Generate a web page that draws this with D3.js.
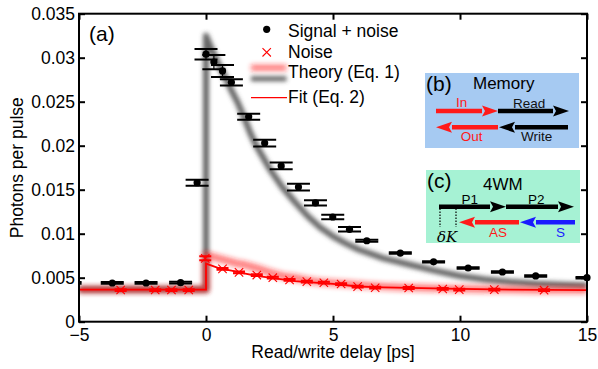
<!DOCTYPE html>
<html>
<head>
<meta charset="utf-8">
<script src="https://cdn.jsdelivr.net/npm/d3@7/dist/d3.min.js"></script>
<style>
  html, body { margin: 0; padding: 0; background: #fff; }
  svg { display: block; font-family: "Liberation Sans", Arial, Helvetica, sans-serif; }
</style>
</head>
<body>
<svg id="chart" width="598" height="369"></svg>
<script>
// ---------------- data ----------------
const xTicks = [-5, 0, 5, 10, 15];
const yTicks = [0, 0.005, 0.01, 0.015, 0.02, 0.025, 0.03, 0.035];

// Signal + noise (black dots with error bars)
const sigX   = [-5.35, -3.69, -2.36, -1.0, -0.35, 0.0, 0.31, 0.65, 1.0, 1.68, 2.31, 2.96, 3.64, 4.31, 4.99, 5.65, 6.33, 7.65, 8.96, 10.32, 11.67, 12.98, 15.0];
const sigY   = [0.0044, 0.0044, 0.0044, 0.00443, 0.0158, 0.0304, 0.0295, 0.0285, 0.0272, 0.0233, 0.0203, 0.0177, 0.0153, 0.0135, 0.0119, 0.0105, 0.0092, 0.0078, 0.0068, 0.0061, 0.00565, 0.0052, 0.0050];
const sigErr = [0.0001, 0.0001, 0.0001, 0.0001, 0.00034, 0.0006, 0.0008, 0.00068, 0.00036, 0.00034, 0.00038, 0.00038, 0.00038, 0.0003, 0.00025, 0.00025, 0.00012, 0.00008, 0.00008, 0.00008, 0.00008, 0.00008, 0.00008];

// Noise (red crosses with error bars)
const noiseX   = [-3.36, -2.0, -1.36, -0.68, -0.03, 0.65, 1.3, 2.0, 2.63, 3.29, 3.97, 4.64, 5.32, 5.97, 6.66, 7.98, 9.32, 9.97, 11.35, 13.31];
const noiseY   = [0.0036, 0.0036, 0.0036, 0.0036, 0.0072, 0.0060, 0.0056, 0.0053, 0.0050, 0.00474, 0.00455, 0.00443, 0.00428, 0.00398, 0.00386, 0.00383, 0.00372, 0.00364, 0.00364, 0.00358];
const noiseErr = [0.0001, 0.0001, 0.0001, 0.0001, 0.00023, 0.0001, 0.0001, 0.0001, 0.0001, 0.0001, 0.0001, 0.0001, 0.0001, 0.0001, 0.0001, 0.0001, 0.0001, 0.0001, 0.0001, 0.0001];

// Theory (Eq. 1) curves
const theoryX      = [-5, 0, 0, 0.25, 0.5, 0.75, 1, 1.25, 1.5, 1.75, 2, 2.5, 3, 3.5, 4, 4.5, 5, 5.5, 6, 6.5, 7, 8, 9, 10, 11, 12, 13, 14, 15];
const theorySignal = [0.00365, 0.00365, 0.0325, 0.0308, 0.0292, 0.0278, 0.0263, 0.0249, 0.0232, 0.0214, 0.0199, 0.0174, 0.0153, 0.0136, 0.0120, 0.0107, 0.0097, 0.0089, 0.0082, 0.0077, 0.0072, 0.0065, 0.0058, 0.0052, 0.0048, 0.0045, 0.0043, 0.0042, 0.0041];
const theoryNoise  = [0.00365, 0.00365, 0.0076, 0.0074, 0.0072, 0.0070, 0.0068, 0.0066, 0.0065, 0.0063, 0.0061, 0.0056, 0.0052, 0.0050, 0.0047, 0.0045, 0.0044, 0.0043, 0.0042, 0.0041, 0.0040, 0.0039, 0.0038, 0.00375, 0.0037, 0.00365, 0.0036, 0.0036, 0.0036];

// Fit (Eq. 2)
const fitX = [-5, 0, 0, 0.5, 1, 1.5, 2, 2.5, 3, 3.5, 4, 5, 6, 7, 8, 9, 10, 12, 15];
const fitY = [0.00365, 0.00365, 0.0066, 0.0061, 0.0058, 0.0055, 0.0052, 0.0050, 0.0048, 0.0046, 0.0045, 0.0043, 0.0040, 0.0039, 0.00385, 0.00378, 0.00372, 0.00364, 0.00358];

const legendLabels = ["Signal + noise", "Noise", "Theory (Eq. 1)", "Fit (Eq. 2)"];
const xLabel = "Read/write delay [ps]";
const yLabel = "Photons per pulse";

// ---------------- layout ----------------
const W = 598, H = 369;
const M = { left: 79, right: 587, top: 13.7, bottom: 321.7 };
const FS = 17.5;
const RED = "#ff0000";

const svg = d3.select("#chart");
const x = d3.scaleLinear().domain([-5, 15]).range([M.left, M.right]);
const y = d3.scaleLinear().domain([0, 0.035]).range([M.bottom, M.top]);

const defs = svg.append("defs");
defs.append("clipPath").attr("id", "plotclip")
  .append("rect").attr("x", M.left).attr("y", M.top)
  .attr("width", M.right - M.left).attr("height", M.bottom - M.top);
function blurFilter(id, sd) {
  defs.append("filter").attr("id", id)
    .attr("filterUnits", "userSpaceOnUse")
    .attr("x", 0).attr("y", 0).attr("width", W).attr("height", H)
    .append("feGaussianBlur").attr("stdDeviation", sd);
}
blurFilter("blurGray", 1.9);
blurFilter("blurRed", 2.4);

const plot = svg.append("g").attr("clip-path", "url(#plotclip)");

const line = d3.line().x(d => x(d[0])).y(d => y(d[1])).curve(d3.curveLinear);
const thSig = theoryX.map((v, i) => [v, theorySignal[i]]);
const thNoi = theoryX.map((v, i) => [v, theoryNoise[i]]);
const fit = fitX.map((v, i) => [v, fitY[i]]);

// gray theory band
plot.append("path").attr("d", line(thSig))
  .attr("fill", "none").attr("stroke", "#4a4a4a").attr("stroke-width", 6)
  .attr("stroke-opacity", 0.85).attr("stroke-linejoin", "round")
  .attr("filter", "url(#blurGray)");
// pink/red theory band
plot.append("path").attr("d", line(thNoi))
  .attr("fill", "none").attr("stroke", "#ff2020").attr("stroke-width", 7)
  .attr("stroke-opacity", 0.6).attr("stroke-linejoin", "round")
  .attr("filter", "url(#blurRed)");
// fit line
plot.append("path").attr("d", line(fit))
  .attr("fill", "none").attr("stroke", RED).attr("stroke-width", 1.8);

// signal error bars
const sig = sigX.map((v, i) => ({ x: v, y: sigY[i], e: sigErr[i] }));
const capS = 11.5;
const gs = plot.append("g").attr("stroke", "#000");
sig.forEach(d => {
  const cx = x(d.x);
  gs.append("line").attr("x1", cx).attr("x2", cx).attr("y1", y(d.y - d.e)).attr("y2", y(d.y + d.e)).attr("stroke-width", 1.2);
  [d.y - d.e, d.y + d.e].forEach(v => {
    gs.append("line").attr("x1", cx - capS).attr("x2", cx + capS).attr("y1", y(v)).attr("y2", y(v)).attr("stroke-width", 2);
  });
});

// noise error bars
const noi = noiseX.map((v, i) => ({ x: v, y: noiseY[i], e: noiseErr[i] }));
const capN = 6;
const gn = plot.append("g").attr("stroke", RED);
noi.forEach(d => {
  const cx = x(d.x);
  gn.append("line").attr("x1", cx).attr("x2", cx).attr("y1", y(d.y - d.e)).attr("y2", y(d.y + d.e)).attr("stroke-width", 1.2);
  [d.y - d.e, d.y + d.e].forEach(v => {
    gn.append("line").attr("x1", cx - capN).attr("x2", cx + capN).attr("y1", y(v)).attr("y2", y(v)).attr("stroke-width", 2);
  });
});

// markers (not clipped, but only those inside the x range)
const marks = svg.append("g");
marks.selectAll("circle").data(sig.filter(d => d.x >= -5 && d.x <= 15)).join("circle")
  .attr("cx", d => x(d.x)).attr("cy", d => y(d.y)).attr("r", 3.6).attr("fill", "#000");
const xs = 4.2;
marks.selectAll("path.cross").data(noi).join("path").attr("class", "cross")
  .attr("d", d => {
    const cx = x(d.x), cy = y(d.y);
    return `M${cx - xs},${cy - xs}L${cx + xs},${cy + xs}M${cx - xs},${cy + xs}L${cx + xs},${cy - xs}`;
  })
  .attr("stroke", RED).attr("stroke-width", 1.1).attr("fill", "none");

// ---------------- axes ----------------
function styleAxis(g) {
  g.select(".domain").remove();
  g.selectAll(".tick line").attr("stroke", "#000").attr("stroke-width", 2);
  g.selectAll(".tick text").attr("fill", "#000").style("font-size", FS + "px")
    .style("font-family", "'Liberation Sans', Arial, sans-serif");
}
const fmtY = d => String(d);
svg.append("g").attr("transform", `translate(0,${M.bottom})`)
  .call(d3.axisBottom(x).tickValues(xTicks).tickSizeInner(-6).tickSizeOuter(0).tickPadding(6.5))
  .call(styleAxis);
svg.append("g").attr("transform", `translate(0,${M.top})`)
  .call(d3.axisTop(x).tickValues(xTicks).tickSizeInner(-6).tickSizeOuter(0).tickFormat(""))
  .call(styleAxis);
svg.append("g").attr("transform", `translate(${M.left},0)`)
  .call(d3.axisLeft(y).tickValues(yTicks).tickSizeInner(-6).tickSizeOuter(0).tickPadding(4).tickFormat(fmtY))
  .call(styleAxis);
svg.append("g").attr("transform", `translate(${M.right},0)`)
  .call(d3.axisRight(y).tickValues(yTicks).tickSizeInner(-6).tickSizeOuter(0).tickFormat(""))
  .call(styleAxis);

// frame
svg.append("rect").attr("x", M.left).attr("y", M.top)
  .attr("width", M.right - M.left).attr("height", M.bottom - M.top)
  .attr("fill", "none").attr("stroke", "#000").attr("stroke-width", 2);

// axis labels
svg.append("text").attr("x", (M.left + M.right) / 2).attr("y", 358)
  .attr("text-anchor", "middle").style("font-size", FS + "px").text(xLabel);
svg.append("text").attr("transform", `translate(23,${(M.top + M.bottom) / 2}) rotate(-90)`)
  .attr("text-anchor", "middle").style("font-size", FS + "px").text(yLabel);

// panel label
svg.append("text").attr("x", 89).attr("y", 41).style("font-size", "21px").text("(a)");

// ---------------- legend ----------------
const lg = svg.append("g");
lg.append("circle").attr("cx", 266.7).attr("cy", 29.3).attr("r", 3.6).attr("fill", "#000");
lg.append("path").attr("d", `M${266.7 - xs},${52.3 - xs}L${266.7 + xs},${52.3 + xs}M${266.7 - xs},${52.3 + xs}L${266.7 + xs},${52.3 - xs}`)
  .attr("stroke", RED).attr("stroke-width", 1.1);
lg.append("line").attr("x1", 251).attr("x2", 286.5).attr("y1", 67.7).attr("y2", 67.7)
  .attr("stroke", "#ff2020").attr("stroke-width", 6).attr("stroke-opacity", 0.6).attr("filter", "url(#blurRed)");
lg.append("line").attr("x1", 251).attr("x2", 286.5).attr("y1", 78.7).attr("y2", 78.7)
  .attr("stroke", "#4a4a4a").attr("stroke-width", 5).attr("stroke-opacity", 0.85).attr("filter", "url(#blurGray)");
lg.append("line").attr("x1", 251).attr("x2", 287).attr("y1", 97.7).attr("y2", 97.7)
  .attr("stroke", RED).attr("stroke-width", 1.2);
const lgY = [36.5, 58.3, 78.3, 102.7];
legendLabels.forEach((t, i) => {
  lg.append("text").attr("x", 288).attr("y", lgY[i]).style("font-size", FS + "px").text(t);
});

// ---------------- insets ----------------
function arrow(g, x1, x2, yy, color) {
  const dir = x2 > x1 ? 1 : -1;
  const hl = 16, hw = 5.5, th = 4.5;
  const xb = x2 - dir * hl;
  g.append("line").attr("x1", x1).attr("x2", xb).attr("y1", yy).attr("y2", yy)
    .attr("stroke", color).attr("stroke-width", th);
  g.append("path").attr("d", `M${x2},${yy}L${xb},${yy - hw}L${xb + dir * 3},${yy}L${xb},${yy + hw}Z`)
    .attr("fill", color);
}
const ins = svg.append("g");
// (b) Memory
ins.append("rect").attr("x", 425).attr("y", 73).attr("width", 154).attr("height", 75).attr("fill", "#a6caf2");
ins.append("text").attr("x", 426).attr("y", 91).style("font-size", "21px").text("(b)");
ins.append("text").attr("x", 473).attr("y", 88.5).style("font-size", "17px").text("Memory");
arrow(ins, 436, 498, 111, "#ff1a1a");
arrow(ins, 498, 569, 111, "#000");
arrow(ins, 498, 436, 127.3, "#ff1a1a");
arrow(ins, 568, 499, 127.3, "#000");
ins.append("text").attr("x", 456).attr("y", 106.5).attr("fill", "#ff1a1a").style("font-size", "13.5px").text("In");
ins.append("text").attr("x", 513).attr("y", 107.5).attr("fill", "#111").style("font-size", "13.5px").text("Read");
ins.append("text").attr("x", 460.7).attr("y", 140.5).attr("fill", "#ff1a1a").style("font-size", "13.5px").text("Out");
ins.append("text").attr("x", 521).attr("y", 141).attr("fill", "#111").style("font-size", "13.5px").text("Write");
// (c) 4WM
ins.append("rect").attr("x", 426).attr("y", 170).attr("width", 154).attr("height", 73).attr("fill", "#a6f2d4");
ins.append("text").attr("x", 427).attr("y", 188).style("font-size", "21px").text("(c)");
ins.append("text").attr("x", 483).attr("y", 189.5).style("font-size", "17px").text("4WM");
arrow(ins, 439, 506, 206.7, "#000");
arrow(ins, 506, 574, 206.7, "#000");
arrow(ins, 519, 459, 222.3, "#ff1a1a");
arrow(ins, 575, 520, 222.3, "#1a1aff");
ins.append("text").attr("x", 461.5).attr("y", 204).style("font-size", "13.5px").text("P1");
ins.append("text").attr("x", 528).attr("y", 204).style("font-size", "13.5px").text("P2");
ins.append("text").attr("x", 489).attr("y", 237).attr("fill", "#ff1a1a").style("font-size", "13.5px").text("AS");
ins.append("text").attr("x", 556).attr("y", 237).attr("fill", "#1a1aff").style("font-size", "13.5px").text("S");
[440, 456].forEach(xx => {
  ins.append("line").attr("x1", xx).attr("x2", xx).attr("y1", 208.5).attr("y2", 227)
    .attr("stroke", "#000").attr("stroke-width", 1.2).attr("stroke-dasharray", "1.5,1.5");
});
ins.append("text").attr("x", 437).attr("y", 241.5)
  .style("font-family", "'DejaVu Serif', 'Liberation Serif', serif").style("font-style", "italic")
  .style("font-size", "15px").text("δK");
</script>
</body>
</html>
